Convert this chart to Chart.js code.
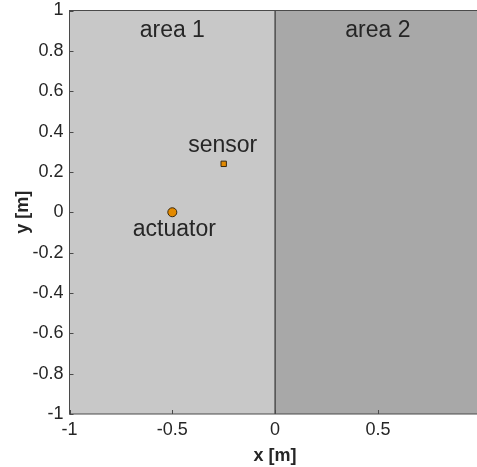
<!DOCTYPE html>
<html>
<head>
<meta charset="utf-8">
<script src="https://cdn.jsdelivr.net/npm/chart.js@4/dist/chart.umd.min.js"></script>
<style>
  html, body { margin: 0; padding: 0; background: #fff; overflow: hidden; }
  #wrap { position: relative; width: 490px; height: 467px; }
</style>
</head>
<body>
<div id="wrap"><canvas id="chart"></canvas></div>
<script>
// region limits along x and their labels
const regionEdges = [-1, 0, 1];
const regionNames = ['area 1', 'area 2'];
const regionColors = ['#c8c8c8', '#a8a8a8'];
const regionLabelY = 0.9;

// sensor and actuator positions
const sensorPos = { x: -0.25, y: 0.24 };
const actuatorPos = { x: -0.5, y: 0 };
const sensorLabel = { text: 'sensor', x: -0.255, y: 0.33 };
const actuatorLabel = { text: 'actuator', x: -0.49, y: -0.085 };

// divider between the two areas
const dividerX = [0, 0];
const dividerY = [-1, 1];

const xTicks = [-1, -0.5, 0, 0.5, 1];
const yTicks = [-1, -0.8, -0.6, -0.4, -0.2, 0, 0.2, 0.4, 0.6, 0.8, 1];

const txt = '#262626';
const axisCol = '#4a4a4a';
const fam = '"Liberation Sans", Arial, sans-serif';

// fondos de las zonas, marco y marcas hacia dentro
const areaPlugin = {
  id: 'areas',
  beforeDatasetsDraw(chart) {
    const { ctx, chartArea: a, scales: { x } } = chart;
    ctx.save();
    for (let i = 0; i < regionNames.length; i++) {
      const x0 = x.getPixelForValue(regionEdges[i]);
      const x1 = x.getPixelForValue(regionEdges[i + 1]);
      ctx.fillStyle = regionColors[i];
      ctx.fillRect(x0, a.top, x1 - x0, a.bottom - a.top);
    }
    ctx.restore();
  },
  afterDatasetsDraw(chart) {
    const { ctx, chartArea: a, scales: { x, y } } = chart;
    ctx.save();
    ctx.strokeStyle = axisCol;
    ctx.lineWidth = 1;
    ctx.strokeRect(a.left, a.top, a.right - a.left, a.bottom - a.top);
    ctx.beginPath();
    xTicks.forEach(v => {
      const px = Math.round(x.getPixelForValue(v)) + 0.5;
      ctx.moveTo(px, a.bottom); ctx.lineTo(px, a.bottom - 4);
    });
    yTicks.forEach(v => {
      const py = Math.round(y.getPixelForValue(v)) + 0.5;
      ctx.moveTo(a.left, py); ctx.lineTo(a.left + 4, py);
    });
    ctx.stroke();

    ctx.fillStyle = txt;
    ctx.textAlign = 'center';
    ctx.textBaseline = 'middle';
    ctx.font = '23px ' + fam;
    for (let i = 0; i < regionNames.length; i++) {
      const cx = (regionEdges[i] + regionEdges[i + 1]) / 2;
      ctx.fillText(regionNames[i], x.getPixelForValue(cx), y.getPixelForValue(regionLabelY));
    }
    [sensorLabel, actuatorLabel].forEach(l => {
      ctx.fillText(l.text, x.getPixelForValue(l.x), y.getPixelForValue(l.y));
    });
    ctx.restore();
  }
};

new Chart(document.getElementById('chart'), {
  type: 'scatter',
  data: {
    datasets: [
      {
        type: 'line',
        data: dividerX.map((v, i) => ({ x: v, y: dividerY[i] })),
        borderColor: '#3c3c3c',
        borderWidth: 1.3,
        pointRadius: 0
      },
      {
        data: [sensorPos],
        pointStyle: 'rect',
        pointRadius: 3.8,
        backgroundColor: '#e38a00',
        borderColor: '#3a2a10',
        borderWidth: 1
      },
      {
        data: [actuatorPos],
        pointStyle: 'circle',
        pointRadius: 4.5,
        backgroundColor: '#e38a00',
        borderColor: '#3a2a10',
        borderWidth: 1
      }
    ]
  },
  options: {
    responsive: true,
    maintainAspectRatio: false,
    animation: false,
    layout: { padding: { left: 0, top: 10.5, right: 9.3, bottom: 0 } },
    plugins: { legend: { display: false }, tooltip: { enabled: false } },
    scales: {
      x: {
        type: 'linear', min: -1, max: 1,
        afterBuildTicks: s => { s.ticks = xTicks.map(v => ({ value: v })); },
        afterFit: s => { s.height = 53; s.paddingLeft = 0; s.paddingRight = 0; },
        grid: { display: false, drawTicks: false },
        border: { display: false },
        ticks: {
          color: txt, padding: 5, maxRotation: 0, autoSkip: false,
          font: { family: fam, size: 18 },
          callback: v => String(v)
        },
        title: {
          display: true, text: 'x [m]', color: txt, padding: { top: 0, bottom: 0 },
          font: { family: fam, size: 18, weight: 'bold' }
        }
      },
      y: {
        type: 'linear', min: -1, max: 1,
        afterBuildTicks: s => { s.ticks = yTicks.map(v => ({ value: v })); },
        afterFit: s => { s.width = 69.5; s.paddingTop = 0; s.paddingBottom = 0; },
        grid: { display: false, drawTicks: false },
        border: { display: false },
        ticks: {
          color: txt, padding: 6, autoSkip: false,
          font: { family: fam, size: 18 },
          callback: v => String(Math.round(v * 10) / 10)
        },
        title: {
          display: true, text: 'y [m]', color: txt, padding: { top: 12, bottom: 0 },
          font: { family: fam, size: 18, weight: 'bold' }
        }
      }
    }
  },
  plugins: [areaPlugin]
});
</script>
</body>
</html>
